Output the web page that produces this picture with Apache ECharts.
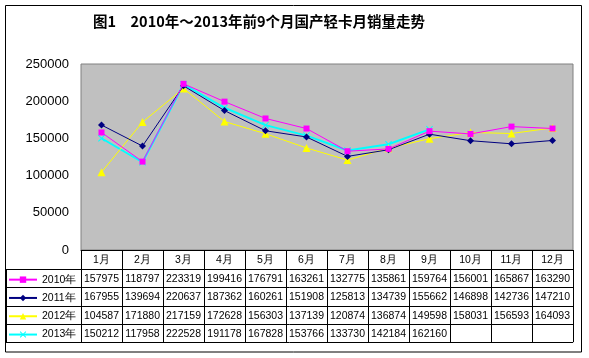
<!DOCTYPE html>
<html>
<head>
<meta charset="utf-8">
<script src="https://cdn.jsdelivr.net/npm/echarts@6/dist/echarts.min.js"></script>
<style>html,body{margin:0;padding:0;background:#fff}#c{width:589px;height:358px}</style>
</head>
<body>
<div id="c"></div>
<script>
const titleText = '图1　2010年～2013年前9个月国产轻卡月销量走势';
const months = ['1月','2月','3月','4月','5月','6月','7月','8月','9月','10月','11月','12月'];
const seriesNames = ['2010年','2011年','2012年','2013年'];
const s2010 = [157975,118797,223319,199416,176791,163261,132775,135861,159764,156001,165867,163290];
const s2011 = [167955,139694,220637,187362,160261,151908,125813,134739,155662,146898,142736,147210];
const s2012 = [104587,171880,217159,172628,156303,137139,120874,136874,149598,158031,156593,164093];
const s2013 = [150212,117958,222528,191178,167828,153766,133730,142184,162160];
const yMin = 0, yMax = 250000, yStep = 50000;

const allSeries = [s2010, s2011, s2012, s2013];
const colors = ['#FF00FF', '#000080', '#FFFF00', '#00FFFF'];
const symbols = ['rect', 'diamond', 'triangle', 'path://M0,1L1,0L5,4L9,0L10,1L6,5L10,9L9,10L5,6L1,10L0,9L4,5Z'];
const symbolSizes = [6, 7, 8, 7];
const lineWidths = [1, 1, 1, 2];

const FONT = '"Liberation Sans", Arial, sans-serif';
const gridL = 81, gridR = 573, gridT = 64, gridB = 250;
const headerH = 19, rowH = 18.3;
const tableBottom = gridB + headerH + rowH * 4;

const graphics = [
  { type: 'rect', shape: { x: 5.5, y: 5.5, width: 576, height: 346.5 }, style: { fill: 'none', stroke: '#000', lineWidth: 1 }, silent: true },
  { type: 'text', left: 93, top: 14, style: { text: titleText, font: 'bold 14.5px "Noto Sans CJK SC", sans-serif', fill: '#000' } },
  { type: 'line', shape: { x1: 6.5, y1: gridB + headerH, x2: 6.5, y2: tableBottom }, style: { stroke: '#000', lineWidth: 1 } }
];
for (let r = 0; r <= 4; r++) {
  const y = Math.round(gridB + headerH + r * rowH) + 0.5;
  graphics.push({ type: 'line', shape: { x1: 6, y1: y, x2: gridR, y2: y }, style: { stroke: '#000', lineWidth: 1 } });
}

const legends = seriesNames.map(function (name, k) {
  return {
    data: [name], orient: 'horizontal', left: 8,
    top: gridB + headerH + k * rowH + rowH / 2 - 4.5,
    itemWidth: 28, itemHeight: 8, padding: 0,
    textStyle: { fontSize: 10.5, fontFamily: FONT, color: '#000', lineHeight: 12 }
  };
});

const chart = echarts.init(document.getElementById('c'), null, { renderer: 'canvas' });
chart.setOption({
  animation: false,
  backgroundColor: '#fff',
  graphic: graphics,
  grid: { left: gridL, right: 589 - gridR, top: gridT, bottom: 358 - gridB, show: true, backgroundColor: '#C0C0C0', borderColor: '#808080', borderWidth: 1 },
  legend: legends,
  xAxis: {
    type: 'category', data: months, boundaryGap: true,
    axisLine: { show: true, lineStyle: { color: '#000', width: 1 } },
    axisTick: { show: true, alignWithLabel: false, interval: 0, length: tableBottom - gridB, lineStyle: { color: '#000', width: 1 } },
    axisLabel: {
      interval: 0, margin: 1,
      formatter: function (v, i) {
        const lines = ['{m|' + v + '}'];
        allSeries.forEach(function (s) {
          lines.push('{v|' + (s[i] !== undefined ? s[i] : ' ') + '}');
        });
        return lines.join('\n');
      },
      rich: {
        m: { fontSize: 10.5, fontFamily: FONT, color: '#000', lineHeight: headerH, height: headerH },
        v: { fontSize: 10.5, fontFamily: FONT, color: '#000', lineHeight: rowH, height: rowH }
      }
    }
  },
  yAxis: {
    type: 'value', min: yMin, max: yMax, interval: yStep,
    axisLine: { show: false }, axisTick: { show: false }, splitLine: { show: false },
    axisLabel: { fontSize: 13, fontFamily: FONT, color: '#000', margin: 12, formatter: function (v) { return String(v); } }
  },
  series: allSeries.map(function (s, k) {
    return {
      name: seriesNames[k], type: 'line', data: s,
      symbol: symbols[k], symbolSize: symbolSizes[k], showSymbol: true,
      itemStyle: { color: colors[k] },
      lineStyle: { color: colors[k], width: lineWidths[k] },
      z: 10 - k
    };
  })
});
</script>
</body>
</html>
